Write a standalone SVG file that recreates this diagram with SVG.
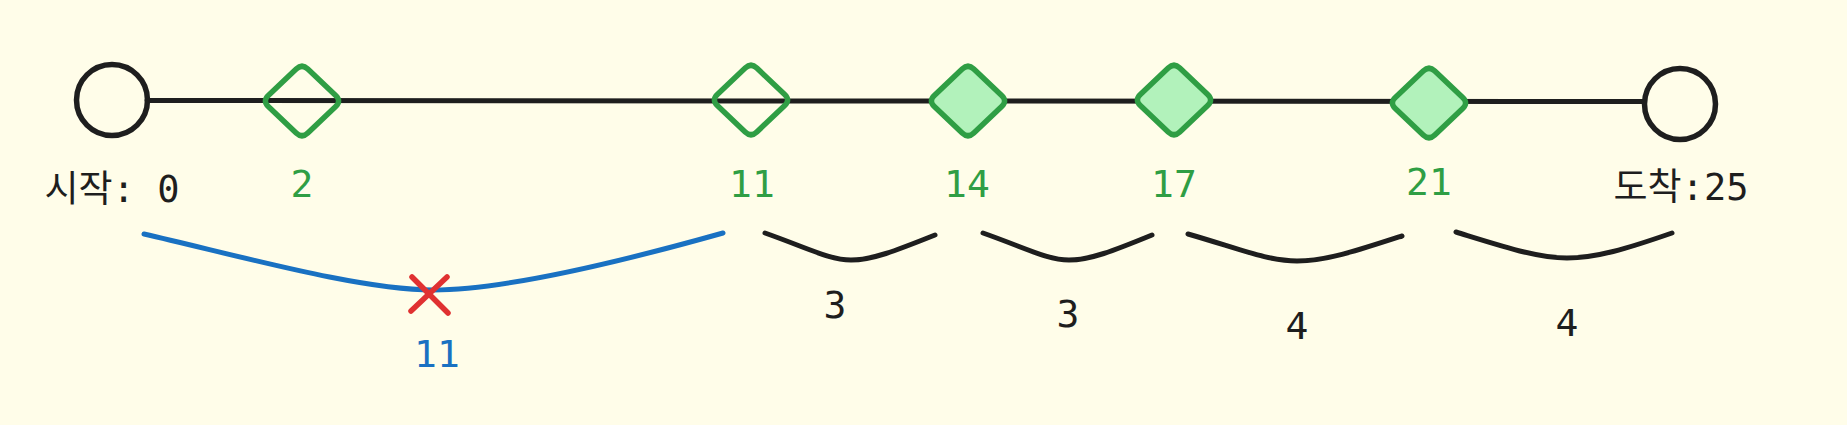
<svg xmlns="http://www.w3.org/2000/svg" xmlns:xlink="http://www.w3.org/1999/xlink" width="1847" height="425" viewBox="0 0 1847 425">
<style>
.bg{fill:#fffde9}
.circ{fill:none;stroke:#1e1e1e;stroke-width:5.5}
.dia{stroke:#2f9e44;stroke-width:5.5;stroke-linejoin:round}
.open{fill:none}
.filled{fill:#b2f2bb}
.line{fill:none;stroke:#1e1e1e;stroke-width:5;stroke-linecap:round}
.brace{fill:none;stroke:#1e1e1e;stroke-width:5;stroke-linecap:round}
.blue{fill:none;stroke:#1971c2;stroke-width:5;stroke-linecap:round}
.cross{fill:none;stroke:#e03131;stroke-width:5.5;stroke-linecap:round}
.t{font-family:"DejaVu Sans Mono","Noto Sans CJK KR",monospace;text-anchor:middle}
.kr{font-size:37px;fill:#1e1e1e}
.gn{font-size:38px;fill:#2f9e44}
.bk{font-size:38px;fill:#1e1e1e}
.bl{font-size:38px;fill:#1971c2}
</style>
<defs>
<path id="dia" d="M-5.8,-32 Q0,-37.5 5.8,-32 L33.7,-5.5 Q39.5,0 33.7,5.5 L5.8,32 Q0,37.5 -5.8,32 L-33.7,5.5 Q-39.5,0 -33.7,-5.5 Z"/>
</defs>
<rect class="bg" x="0" y="0" width="1847" height="425"/>
<g id="connectors">
<path class="line" d="M147,100.5 L1644,101.5"/>
<path class="blue" d="M144,234 C240,256 360,290 433,290 C505,290 620,262 723,233"/>
<path class="brace" d="M765,233 C810,249 830,260 851,260 C872,260 895,251 935,235"/>
<path class="brace" d="M983,233 C1028,249 1048,260 1069,260 C1090,260 1113,251 1152,235"/>
<path class="brace" d="M1188,234 C1240,249 1268,261 1297,261 C1326,261 1356,251 1402,236"/>
<path class="brace" d="M1456,232 C1508,248 1538,258 1567,258 C1596,258 1626,249 1672,233"/>
</g>
<g id="start">
<circle class="circ" cx="112" cy="100" r="35.5"/>
<text class="t kr" x="112" y="202">시작: 0</text>
</g>
<g id="n2">
<use xlink:href="#dia" class="dia open" x="302" y="101"/>
<text class="t gn" x="302" y="197">2</text>
</g>
<g id="n11">
<use xlink:href="#dia" class="dia open" x="751" y="100"/>
<text class="t gn" x="752" y="197">11</text>
</g>
<g id="n14">
<use xlink:href="#dia" class="dia filled" x="968" y="101"/>
<text class="t gn" x="967" y="197">14</text>
</g>
<g id="n17">
<use xlink:href="#dia" class="dia filled" x="1174" y="100"/>
<text class="t gn" x="1174" y="197">17</text>
</g>
<g id="n21">
<use xlink:href="#dia" class="dia filled" x="1429" y="103"/>
<text class="t gn" x="1429" y="195">21</text>
</g>
<g id="end">
<circle class="circ" cx="1680" cy="104" r="35.5"/>
<text class="t kr" x="1681" y="200">도착:25</text>
</g>
<g id="labels">
<path class="cross" d="M412,277 L448,313 M447,277 L411,311"/>
<text class="t bl" x="437" y="367">11</text>
<text class="t bk" x="835" y="318">3</text>
<text class="t bk" x="1068" y="327">3</text>
<text class="t bk" x="1297" y="339">4</text>
<text class="t bk" x="1567" y="336">4</text>
</g>
</svg>
